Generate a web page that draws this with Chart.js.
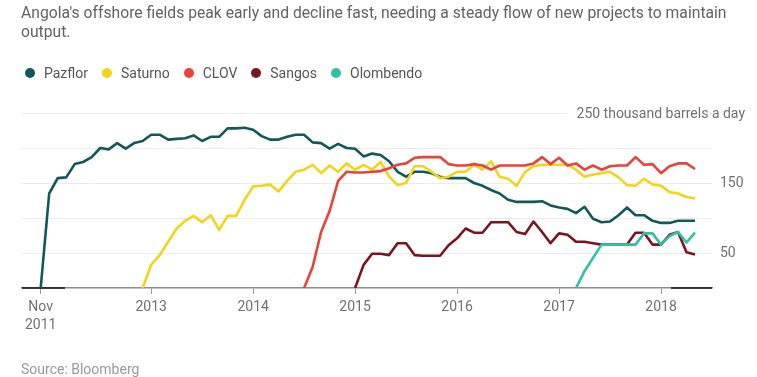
<!DOCTYPE html>
<html>
<head>
<meta charset="utf-8">
<script src="https://cdn.jsdelivr.net/npm/chart.js@4.4.1/dist/chart.umd.min.js"></script>
<style>
  html, body { margin: 0; padding: 0; background: #fff; }
  body { width: 757px; height: 377px; position: relative; overflow: hidden; font-family: Roboto, "Noto Sans", sans-serif; }
  #wrap { position: absolute; left: 0; top: 0; width: 757px; height: 377px; }
  #title { position: absolute; left: 21px; top: 3px; font-size: 15.7px; line-height: 19px; color: #626262; white-space: nowrap; }
  #legend { position: absolute; left: 25px; top: 65px; display: flex; align-items: center; font-size: 14px; color: #555; }
  .item { display: flex; align-items: center; margin-right: 14px; }
  .dot { width: 10px; height: 10px; border-radius: 50%; margin-right: 9px; }
  #source { position: absolute; left: 21px; top: 361px; font-size: 14px; color: #999; }
</style>
</head>
<body>
<div id="wrap"><canvas id="chart" width="757" height="377"></canvas></div>
<div id="title">Angola's offshore fields peak early and decline fast, needing a steady flow of new projects to maintain<br>output.</div>
<div id="legend"></div>
<div id="source">Source: Bloomberg</div>
<script>
// monthly output, thousand barrels a day; month 0 = Nov 2011
const categories = ['Pazflor', 'Saturno', 'CLOV', 'Sangos', 'Olombendo'];
const startMonth = [0, 12, 31, 37, 63];

const pazflor = [0, 135, 157, 158, 177, 180, 187, 200, 198, 207,
  199, 207, 210, 219, 219, 212, 213, 214, 218, 210,
  216, 216, 228, 228, 229, 226, 217, 212, 212, 216,
  219, 219, 208, 207, 199, 206, 200, 199, 188, 192,
  190, 181, 166, 159, 166, 166, 164, 159, 157, 157,
  157, 150, 146, 140, 135, 126, 123, 123, 123, 124,
  118, 115, 113, 107, 116, 99, 94, 95, 104, 115,
  104, 104, 96, 93, 93, 96, 96, 96];
const saturno = [0, 33, 47, 66, 85, 96, 103, 94, 104, 83,
  103, 103, 126, 145, 146, 148, 138, 153, 166, 169,
  176, 164, 175, 166, 178, 169, 176, 169, 180, 159,
  147, 150, 174, 174, 166, 157, 159, 166, 166, 176,
  169, 181, 159, 156, 146, 166, 174, 176, 176, 176,
  176, 169, 159, 162, 164, 166, 158, 147, 146, 156,
  148, 146, 137, 135, 130, 128];
const clov = [0, 30, 80, 110, 153, 166, 165, 165, 166, 167,
  171, 176, 178, 186, 187, 187, 187, 177, 175, 175,
  177, 175, 169, 175, 175, 175, 175, 178, 187, 177,
  186, 175, 178, 169, 175, 169, 174, 175, 175, 187,
  176, 177, 164, 174, 178, 178, 170];
const sangos = [0, 33, 49, 49, 47, 64, 64, 47, 46, 46,
  46, 61, 71, 85, 79, 79, 94, 94, 94, 80,
  77, 95, 80, 64, 78, 76, 66, 66, 64, 62,
  62, 62, 62, 79, 79, 62, 62, 76, 80, 51, 48];
const olombendo = [0, 24, 43, 62, 62, 62, 62, 62, 78, 78,
  62, 74, 80, 65, 79];

const xTickMonths = [0, 13, 25, 37, 49, 61, 73];
const xTickLabels = [['Nov', '2011'], '2013', '2014', '2015', '2016', '2017', '2018'];
const yLabelValues = [50, 150];
const unitText = '250 thousand barrels a day';

const seriesValues = [pazflor, saturno, clov, sangos, olombendo];
const colors = ['#12585b', '#f3d419', '#e8423b', '#7a1520', '#31c0a6'];
const drawOrder = [5, 4, 3, 2, 1];

// legend
const legend = document.getElementById('legend');
categories.forEach((name, i) => {
  const item = document.createElement('div');
  item.className = 'item';
  item.innerHTML = '<span class="dot" style="background:' + colors[i] + '"></span><span>' + name + '</span>';
  legend.appendChild(item);
});

const datasets = categories.map((name, i) => ({
  label: name,
  data: seriesValues[i].map((v, k) => ({ x: startMonth[i] + k, y: v })),
  borderColor: colors[i],
  borderWidth: 2.6,
  borderJoinStyle: 'round',
  pointRadius: 0,
  tension: 0,
  fill: false,
  order: drawOrder[i],
}));

// unit label on the top grid line + dark ends of the baseline
const extras = {
  id: 'extras',
  beforeDatasetsDraw(chart) {
    const { ctx, chartArea, scales: { y } } = chart;
    const py = y.getPixelForValue(250);
    ctx.save();
    ctx.font = '14px Roboto';
    const w = ctx.measureText(unitText).width;
    ctx.fillStyle = '#fff';
    ctx.fillRect(745 - w - 9, py - 3, w + 20, 6);
    ctx.fillStyle = '#707070';
    ctx.textAlign = 'right';
    ctx.textBaseline = 'middle';
    ctx.fillText(unitText, 745, py + 1);

    ctx.strokeStyle = '#111';
    ctx.lineWidth = 1.5;
    ctx.beginPath();
    ctx.moveTo(chartArea.left, chartArea.bottom);
    ctx.lineTo(chartArea.left + 43, chartArea.bottom);
    ctx.moveTo(chartArea.right - 41, chartArea.bottom);
    ctx.lineTo(chartArea.right, chartArea.bottom);
    ctx.stroke();
    ctx.restore();
  }
};

new Chart(document.getElementById('chart').getContext('2d'), {
  type: 'line',
  data: { datasets },
  options: {
    responsive: false,
    animation: false,
    layout: { padding: { top: 113, left: 22, right: 0, bottom: 0 } },
    plugins: {
      legend: { display: false },
      tooltip: { enabled: false },
    },
    scales: {
      x: {
        type: 'linear',
        min: -2.2,
        max: 79,
        afterBuildTicks: (scale) => { scale.ticks = xTickMonths.map(v => ({ value: v })); },
        afterFit: (scale) => { scale.height = 89; },
        ticks: {
          autoSkip: false,
          maxRotation: 0,
          padding: 4,
          color: '#707070',
          font: { family: 'Roboto', size: 14, lineHeight: 1.3 },
          callback: (v, i) => xTickLabels[i],
        },
        grid: { drawOnChartArea: false, drawTicks: true, tickLength: 6, color: '#999' },
        border: { display: true, color: '#8c8c8c', width: 1.5 },
      },
      y: {
        position: 'right',
        min: 0,
        max: 250,
        afterFit: (scale) => { scale.width = 45; },
        ticks: {
          stepSize: 50,
          padding: 8,
          color: '#707070',
          font: { family: 'Roboto', size: 14 },
          callback: (v) => yLabelValues.includes(v) ? String(v) : '',
        },
        grid: {
          drawTicks: false,
          color: (c) => c.tick && c.tick.value === 0 ? 'rgba(0,0,0,0)' : '#ebebeb',
        },
        border: { display: false },
      },
    },
  },
  plugins: [extras],
});
</script>
</body>
</html>
